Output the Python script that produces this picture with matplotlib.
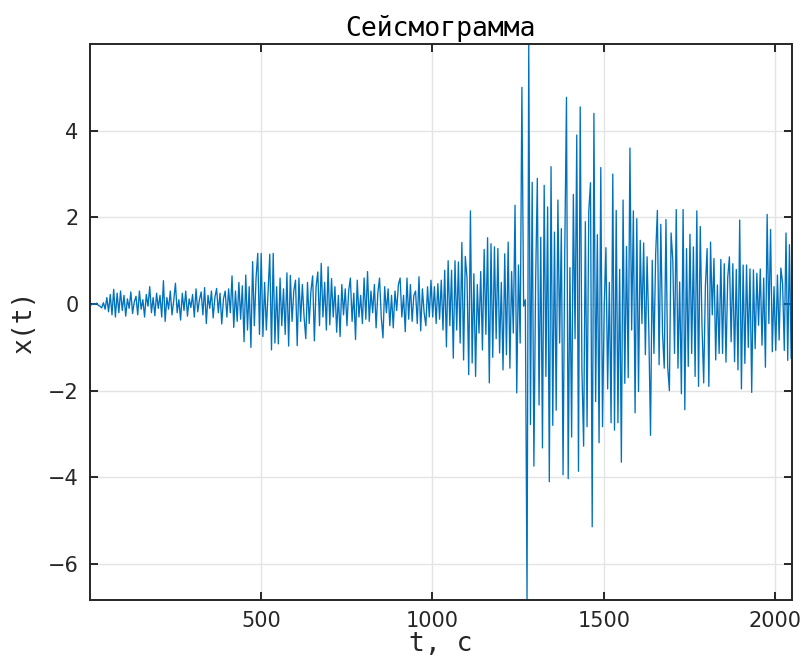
import matplotlib
matplotlib.use("Agg")
import matplotlib.pyplot as plt
import numpy as np

# seismogram samples, one every 5 s starting at t = 1
dt = 5
x_vals = [
    # 1 - 96
    0.0, -0.02, 0.01, -0.01, 0.02, -0.03, -0.05, -0.09, 0.03, -0.12,
    0.15, -0.18, 0.22, -0.25, 0.34, -0.3, 0.25, -0.2, 0.3, -0.15,
    # 101 - 196
    0.2, -0.28, 0.12, -0.1, 0.28, -0.22, 0.05, 0.18, -0.25, 0.3,
    -0.12, 0.1, -0.3, 0.22, -0.05, 0.4, -0.2, 0.15, -0.27, 0.25,
    # 201 - 296
    -0.1, 0.2, -0.3, 0.54, -0.4, 0.15, -0.12, 0.3, -0.25, 0.08,
    0.48, -0.2, 0.1, -0.37, 0.25, -0.15, 0.3, -0.28, 0.12, -0.08,
    # 301 - 396
    0.22, -0.3, 0.35, -0.18, 0.1, 0.28, -0.25, 0.38, -0.45, 0.2,
    -0.1, 0.3, -0.32, 0.15, 0.36, -0.2, 0.25, -0.46, 0.12, 0.3,
    # 401 - 496
    -0.3, 0.35, -0.2, 0.65, -0.54, 0.3, -0.4, 0.5, -0.35, 0.42,
    -0.87, 0.67, -0.6, 0.4, -1.0, 0.98, -0.5, 0.6, 1.17, -0.7,
    # 501 - 596
    1.17, -0.75, 0.5, -0.6, 0.3, 1.15, -1.06, 1.17, -0.9, 0.4,
    -0.92, 0.6, -0.5, 0.35, -0.7, 0.72, -0.97, 0.66, -0.4, 0.3,
    # 601 - 696
    0.55, -0.96, 0.6, -0.4, 0.45, -0.3, -0.8, 0.5, -0.45, 0.3,
    0.65, -0.85, 0.4, 0.74, -0.5, 0.94, -0.3, 0.5, -0.6, 0.86,
    # 701 - 796
    -0.48, 0.59, -0.3, 0.4, -0.65, 0.2, -0.75, 0.45, -0.25, 0.35,
    -0.5, 0.3, 0.6, -0.4, 0.25, -0.82, 0.55, -0.3, 0.2, -0.45,
    # 801 - 896
    0.6, -0.35, 0.75, -0.4, 0.3, -0.2, 0.45, -0.55, 0.25, 0.6,
    -0.3, -0.78, 0.4, -0.2, 0.35, -0.5, 0.2, -0.55, 0.3, -0.15,
    # 901 - 996
    0.45, 0.6, -0.3, 0.2, -0.64, 0.6, -0.35, 0.45, -0.4, 0.2,
    0.3, -0.45, 0.63, -0.62, 0.35, -0.2, -0.5, 0.4, -0.3, 0.55,
    # 1001 - 1096
    -0.3, 0.4, -0.45, 0.47, -0.35, 0.55, -0.6, 0.78, -0.99, 1.0,
    -0.5, 0.78, -1.25, 1.0, -0.6, 0.97, -0.9, 1.42, -1.29, 1.1,
    # 1101 - 1196
    0.6, -1.63, 2.15, -1.36, 0.7, -1.67, 0.45, -0.67, 0.75, -1.06,
    1.26, -0.7, 1.53, -1.82, 1.39, -1.23, 1.32, -0.8, 1.28, -1.13,
    # 1201 - 1296
    0.5, -1.52, 1.16, -1.17, 1.43, -1.48, 0.75, -0.67, 2.28, -2.05,
    0.9, -0.9, 5.0, -0.05, 0.1, -6.83, 6.0, -2.78, 2.81, -3.74,
    # 1301 - 1396
    0.5, 2.9, -2.33, 1.54, -3.32, 2.74, -1.67, 2.24, -4.1, 3.17,
    -2.8, 1.66, -2.45, 2.4, -0.9, 1.74, -3.94, 1.21, 4.77, -4.03,
    # 1401 - 1496
    0.84, -3.07, 2.53, -0.8, 3.9, -3.86, 4.55, -1.51, -3.28, 1.9,
    -2.83, 2.14, 2.8, -5.14, 4.4, -2.25, 1.6, -3.2, 3.15, -2.83,
    # 1501 - 1596
    -0.07, 1.3, -1.96, 0.5, -2.74, 3.0, -2.91, 2.16, -2.74, 0.8,
    -3.65, 2.4, -1.83, 1.33, -1.7, 3.6, -0.6, 2.15, -2.51, 1.97,
    # 1601 - 1696
    -2.02, 1.47, -0.45, 1.41, -1.17, 1.09, -0.6, -3.03, 1.01, -1.14,
    1.16, 2.16, -1.4, 1.84, -0.67, -1.48, 1.95, -1.44, -2.0, 1.64,
    # 1701 - 1796
    1.01, -1.14, 2.18, -1.48, 0.51, -2.07, 2.18, -2.44, 1.28, -1.44,
    1.61, -1.14, 1.32, -1.67, 2.15, -1.9, 1.79, -0.48, -1.82, 0.42,
    # 1801 - 1896
    1.28, -1.9, 1.43, -0.25, 1.05, -1.29, 0.44, -1.14, 1.03, -1.14,
    0.93, -1.34, 0.6, 1.09, -0.87, 0.93, -1.33, 0.8, -1.52, 1.94,
    # 1901 - 1996
    -1.96, 0.9, -1.37, 0.9, -1.0, 0.81, -2.04, 0.79, -1.03, 0.71,
    -0.49, 0.81, -0.95, 0.6, -1.46, 2.07, -0.45, 1.72, -1.1, 0.4,
    # 2001 - 2046
    -1.07, 0.67, -0.83, 0.83, 0.48, -1.07, 1.64, -1.3, 1.37, -1.25,
]
x_vals = np.array(x_vals)
t = 1 + dt * np.arange(len(x_vals))

x_ticks = [500, 1000, 1500, 2000]
y_ticks = [-6, -4, -2, 0, 2, 4]

fig = plt.figure(figsize=(8.08, 6.63), dpi=100)
ax = fig.add_axes([0.111, 0.095, 0.869, 0.8386])

ax.plot(t, x_vals, color="#0072BD", linewidth=0.95)

ax.set_xlim(1, 2048)
ax.set_ylim(x_vals.min(), x_vals.max())
ax.set_xticks(x_ticks)
ax.set_yticks(y_ticks)
ax.set_yticklabels(["\u2212" + str(-v) if v < 0 else str(v) for v in y_ticks])

ax.grid(True, color="#e4e4e4", linewidth=1.0)
ax.set_axisbelow(True)
for s in ax.spines.values():
    s.set_color("#262626")
    s.set_linewidth(1.4)
ax.tick_params(direction="in", length=6, width=1.4, color="#262626",
               top=True, right=True, labelsize=15, labelcolor="#262626", pad=8)

mono = "DejaVu Sans Mono"
ax.set_title("Сейсмограмма", fontfamily=mono, fontsize=19, pad=6)
ax.set_xlabel("t, c", fontfamily=mono, fontsize=19, labelpad=0, color="#262626")
ax.set_ylabel("x(t)", fontfamily=mono, fontsize=19, labelpad=8, color="#262626")

fig.savefig("out.png", dpi=100)
